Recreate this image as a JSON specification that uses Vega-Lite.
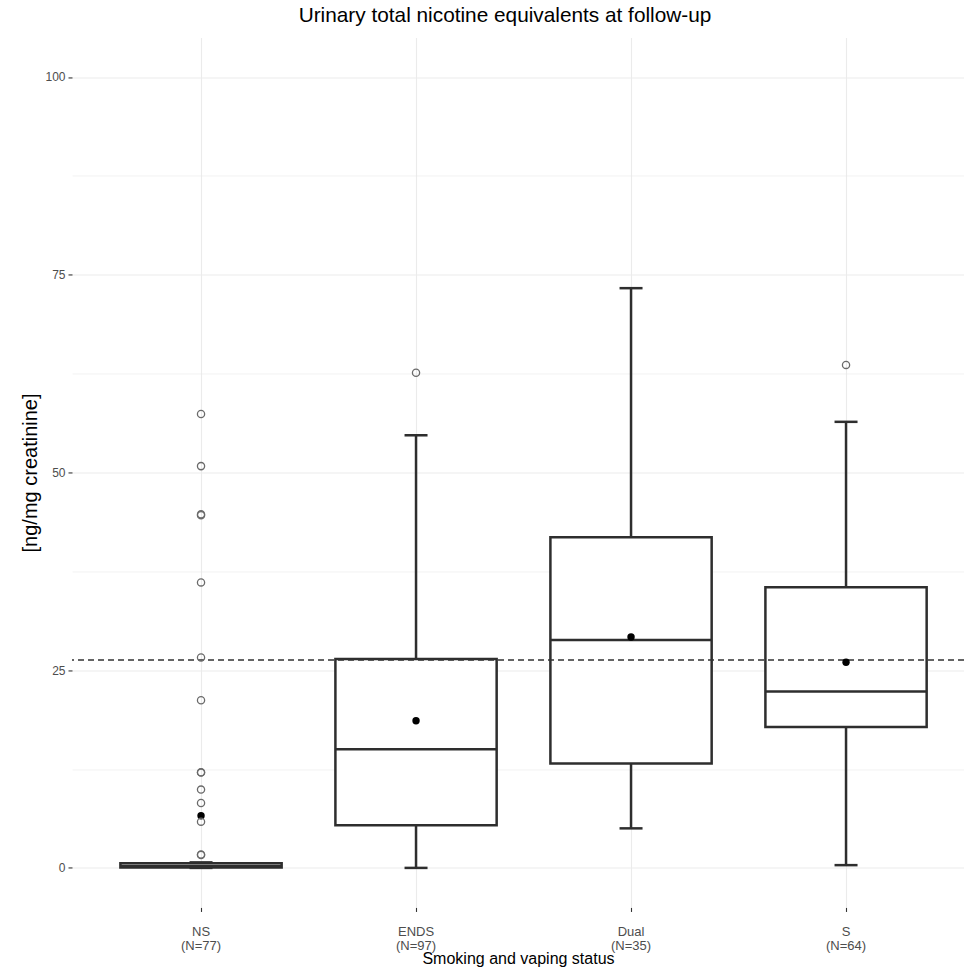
{
  "$schema": "https://vega.github.io/schema/vega-lite/v6.json",
  "autosize": {"type": "none"},
  "width": 892,
  "height": 870,
  "padding": {"left": 72, "top": 37.45, "right": 0, "bottom": 61.55},
  "background": "white",
  "title": {
    "text": "Urinary total nicotine equivalents at follow-up",
    "font": "Liberation Sans",
    "fontSize": 20.8,
    "fontWeight": "normal",
    "color": "#000000",
    "anchor": "middle",
    "dx": -13,
    "offset": 11
  },
  "config": {
    "view": {"stroke": null},
    "font": "Liberation Sans"
  },
  "datasets": {
    "stats": [
      {"grp": "NS (N=77)", "lower": 0, "q1": 0.05, "median": 0.25, "q3": 0.6, "upper": 0.7, "mean": 6.6},
      {"grp": "ENDS (N=97)", "lower": 0, "q1": 5.4, "median": 15.0, "q3": 26.4, "upper": 54.7, "mean": 18.6},
      {"grp": "Dual (N=35)", "lower": 5.0, "q1": 13.2, "median": 28.8, "q3": 41.8, "upper": 73.3, "mean": 29.2},
      {"grp": "S (N=64)", "lower": 0.35, "q1": 17.8, "median": 22.3, "q3": 35.5, "upper": 56.4, "mean": 26.0}
    ],
    "outliers": [
      {"grp": "NS (N=77)", "value": 57.4},
      {"grp": "NS (N=77)", "value": 50.8},
      {"grp": "NS (N=77)", "value": 44.6},
      {"grp": "NS (N=77)", "value": 44.7},
      {"grp": "NS (N=77)", "value": 36.1},
      {"grp": "NS (N=77)", "value": 26.6},
      {"grp": "NS (N=77)", "value": 21.2},
      {"grp": "NS (N=77)", "value": 12.05},
      {"grp": "NS (N=77)", "value": 12.1},
      {"grp": "NS (N=77)", "value": 9.9},
      {"grp": "NS (N=77)", "value": 8.2},
      {"grp": "NS (N=77)", "value": 5.85},
      {"grp": "NS (N=77)", "value": 1.64},
      {"grp": "NS (N=77)", "value": 1.7},
      {"grp": "ENDS (N=97)", "value": 62.6},
      {"grp": "S (N=64)", "value": 63.6}
    ],
    "ref": [{"value": 26.3}]
  },
  "layer": [
    {
      "data": {"name": "stats"},
      "mark": {"type": "rule", "color": "#2e2e2e", "strokeWidth": 2.5},
      "encoding": {
        "x": {"field": "grp", "type": "nominal", "title": "Smoking and vaping status",
          "scale": {"type": "band", "domain": ["NS (N=77)", "ENDS (N=97)", "Dual (N=35)", "S (N=64)"], "paddingInner": 0.25, "paddingOuter": 0.1994, "align": 0.5645},
          "axis": {"labelExpr": "split(datum.label, ' ')", "labelAngle": 0, "grid": true, "gridColor": "#ebebeb", "gridWidth": 1.1, "domain": false, "tickColor": "#333333", "tickSize": 4, "tickWidth": 1.1, "labelColor": "#4d4d4d", "labelFont": "Liberation Sans", "labelFontSize": 13, "labelPadding": 14, "labelLineHeight": 14, "titleFont": "Liberation Sans", "titleFontSize": 16, "titleFontWeight": "normal", "titleColor": "#000000", "titlePadding": -2}},
        "y": {"field": "q3", "type": "quantitative", "title": "[ng/mg creatinine]",
          "scale": {"domain": [-5, 105], "nice": false, "zero": false},
          "axis": {"values": [0, 12.5, 25, 37.5, 50, 62.5, 75, 87.5, 100], "labelExpr": "datum.value % 25 === 0 ? datum.label : ''", "grid": true, "gridColor": "#ebebeb", "gridWidth": {"condition": {"test": "datum.value % 25 === 0", "value": 1.1}, "value": 0.6}, "tickOpacity": {"condition": {"test": "datum.value % 25 === 0", "value": 1}, "value": 0}, "domain": false, "tickColor": "#333333", "tickSize": 4, "tickWidth": 1.1, "labelColor": "#4d4d4d", "labelFont": "Liberation Sans", "labelFontSize": 12, "labelPadding": 3, "titleFont": "Liberation Sans", "titleFontSize": 20, "titleFontWeight": "normal", "titleColor": "#000000", "titlePadding": 4}},
        "y2": {"field": "upper"}
      }
    },
    {
      "data": {"name": "stats"},
      "mark": {"type": "rule", "color": "#2e2e2e", "strokeWidth": 2.5},
      "encoding": {
        "x": {"field": "grp", "type": "nominal", "title": "Smoking and vaping status"},
        "y": {"field": "lower", "type": "quantitative", "title": "[ng/mg creatinine]"},
        "y2": {"field": "q1"}
      }
    },
    {
      "data": {"name": "stats"},
      "mark": {"type": "bar", "fill": "white", "stroke": "#2e2e2e", "strokeWidth": 2.5},
      "encoding": {
        "x": {"field": "grp", "type": "nominal", "title": "Smoking and vaping status"},
        "y": {"field": "q1", "type": "quantitative", "title": "[ng/mg creatinine]"},
        "y2": {"field": "q3"}
      }
    },
    {
      "data": {"name": "stats"},
      "mark": {"type": "tick", "color": "#2e2e2e", "size": 161.25, "thickness": 2.5, "opacity": 1},
      "encoding": {
        "x": {"field": "grp", "type": "nominal", "title": "Smoking and vaping status"},
        "y": {"field": "median", "type": "quantitative", "title": "[ng/mg creatinine]"}
      }
    },
    {
      "data": {"name": "stats"},
      "mark": {"type": "tick", "color": "#2e2e2e", "size": 23, "thickness": 2.5, "opacity": 1},
      "encoding": {
        "x": {"field": "grp", "type": "nominal", "title": "Smoking and vaping status"},
        "y": {"field": "upper", "type": "quantitative", "title": "[ng/mg creatinine]"}
      }
    },
    {
      "data": {"name": "stats"},
      "mark": {"type": "tick", "color": "#2e2e2e", "size": 23, "thickness": 2.5, "opacity": 1},
      "encoding": {
        "x": {"field": "grp", "type": "nominal", "title": "Smoking and vaping status"},
        "y": {"field": "lower", "type": "quantitative", "title": "[ng/mg creatinine]"}
      }
    },
    {
      "data": {"name": "ref"},
      "mark": {"type": "rule", "color": "#333333", "strokeWidth": 1.5, "strokeDash": [6, 4]},
      "encoding": {
        "y": {"field": "value", "type": "quantitative", "title": "[ng/mg creatinine]"}
      }
    },
    {
      "data": {"name": "stats"},
      "mark": {"type": "point", "filled": true, "color": "#000000", "size": 55, "shape": "circle", "opacity": 1},
      "encoding": {
        "x": {"field": "grp", "type": "nominal", "title": "Smoking and vaping status"},
        "y": {"field": "mean", "type": "quantitative", "title": "[ng/mg creatinine]"}
      }
    },
    {
      "data": {"name": "outliers"},
      "mark": {"type": "point", "filled": false, "color": "#6a6a6a", "strokeWidth": 1.3, "size": 52, "shape": "circle", "opacity": 1},
      "encoding": {
        "x": {"field": "grp", "type": "nominal", "title": "Smoking and vaping status"},
        "y": {"field": "value", "type": "quantitative", "title": "[ng/mg creatinine]"}
      }
    }
  ]
}
